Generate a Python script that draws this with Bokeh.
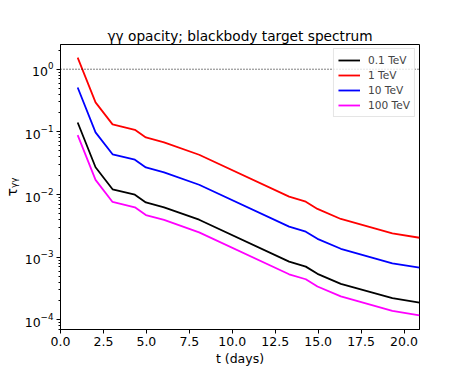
from bokeh.plotting import figure
from bokeh.models import Range1d, Span, Legend, LegendItem, FixedTicker
from bokeh.embed import file_html
from bokeh.resources import INLINE

# time (days)
days = [1.0, 2.04, 3.03, 4.33, 4.97, 6.03, 8.07, 13.31, 14.28, 14.96, 16.32, 19.32, 20.9]

tau_01TeV = [0.141, 0.0272, 0.0121, 0.00993, 0.00748, 0.00625, 0.00396,
             0.000849, 0.000706, 0.000542, 0.000375, 0.000221, 0.000188]
tau_1TeV = [1.535, 0.295, 0.1315, 0.1079, 0.0813, 0.0679, 0.0431,
            0.00923, 0.00767, 0.00589, 0.00407, 0.00240, 0.00204]
tau_10TeV = [0.511, 0.0982, 0.0438, 0.0359, 0.0270, 0.0226, 0.0143,
             0.00307, 0.00255, 0.00196, 0.00136, 0.000798, 0.000679]
tau_100TeV = [0.0887, 0.0171, 0.0076, 0.00624, 0.0047, 0.00393, 0.00249,
              0.000533, 0.000444, 0.000340, 0.000236, 0.000139, 0.000118]

series_labels = ["0.1 TeV", "1 TeV", "10 TeV", "100 TeV"]
series_colors = ["black", "red", "blue", "magenta"]
series_values = [tau_01TeV, tau_1TeV, tau_10TeV, tau_100TeV]

x_ticks = [0.0, 2.5, 5.0, 7.5, 10.0, 12.5, 15.0, 17.5, 20.0]
x_tick_labels = ["0.0", "2.5", "5.0", "7.5", "10.0", "12.5", "15.0", "17.5", "20.0"]
unity = 1.0

FONT = "DejaVu Sans"

p = figure(
    output_backend="svg", toolbar_location=None,
    y_axis_type="log",
    x_range=Range1d(0, 20.9), y_range=Range1d(7.0e-5, 2.48),
    frame_width=359, frame_height=285,
    min_border_left=50, min_border_right=38, min_border_top=44, min_border_bottom=34,
)
p.title.text = "γγ opacity; blackbody target spectrum"
p.title.align = "center"
p.title.text_font = FONT
p.title.text_font_size = "13.7px"
p.title.text_font_style = "normal"
p.title.text_color = "black"
p.title.standoff = 2

p.grid.visible = False
p.outline_line_color = "black"
p.outline_line_width = 1
p.background_fill_color = "white"
p.border_fill_color = "white"

lines = []
for vals, col in zip(series_values, series_colors):
    r = p.line(days, vals, line_color=col, line_width=1.8)
    lines.append(r)

p.add_layout(Span(location=unity, dimension="width", line_color="black",
                  line_dash="1 2", line_width=1))

p.xaxis.ticker = FixedTicker(ticks=x_ticks)
p.xaxis.major_label_overrides = {t: l for t, l in zip(x_ticks, x_tick_labels)}
p.xaxis.axis_label = "t (days)"
p.yaxis.axis_label = "τᵧᵧ"

for ax in (p.xaxis, p.yaxis):
    ax.axis_line_color = "black"
    ax.major_tick_line_color = "black"
    ax.minor_tick_line_color = "black"
    ax.major_tick_in = 0
    ax.major_tick_out = 4
    ax.minor_tick_in = 0
    ax.minor_tick_out = 2
    ax.major_label_text_font = FONT
    ax.major_label_text_font_size = "12.5px"
    ax.major_label_text_color = "black"
    ax.axis_label_text_font = FONT
    ax.axis_label_text_font_size = "12.5px"
    ax.axis_label_text_font_style = "normal"
    ax.axis_label_text_color = "black"
    ax.axis_label_standoff = 2
    ax.major_label_standoff = 3
p.xaxis.minor_tick_line_color = None
p.yaxis.axis_label_text_font_size = "14px"

legend = Legend(
    items=[LegendItem(label=lab, renderers=[r]) for lab, r in zip(series_labels, lines)],
    location="top_right",
    label_text_font=FONT, label_text_font_size="10.6px",
    glyph_width=22, glyph_height=14, label_height=14, spacing=1,
    label_standoff=8, padding=4, margin=4,
    border_line_color="#cccccc", border_line_width=1,
    background_fill_alpha=0.8,
)
p.add_layout(legend)

open("out.html", "w").write(file_html(p, INLINE))
